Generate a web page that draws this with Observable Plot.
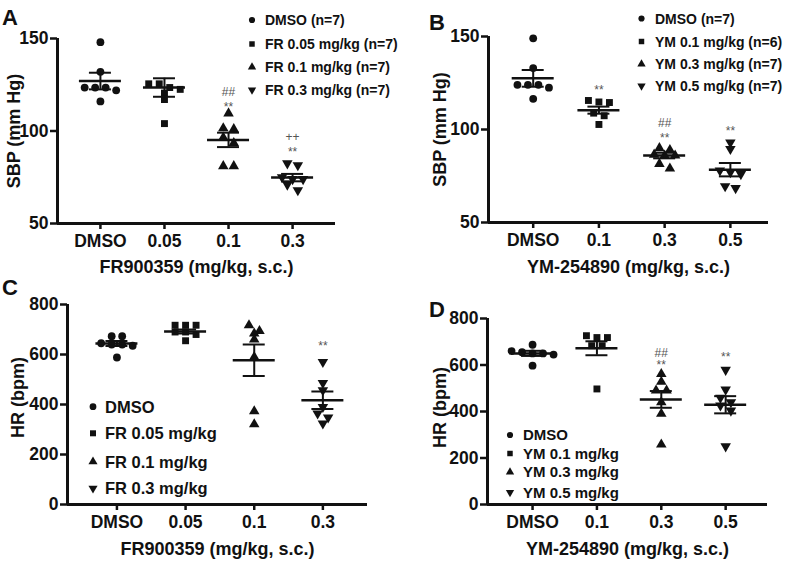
<!DOCTYPE html>
<html><head><meta charset="utf-8">
<script src="https://cdn.jsdelivr.net/npm/d3@7"></script>
<script src="https://cdn.jsdelivr.net/npm/@observablehq/plot@0.6"></script>
<style>
body{margin:0;background:#fff;}
#fig{position:relative;width:800px;height:565px;font-family:"Liberation Sans",Arial,sans-serif;color:#111;overflow:hidden;}
#fig > svg{position:absolute;}
</style></head><body><div id="fig"></div><script>
// ---------- data ----------
const catsFR = ["DMSO", "0.05", "0.1", "0.3"];
const catsYM = ["DMSO", "0.1", "0.3", "0.5"];

// Panel A: SBP, FR900359
const sbpA_DMSO = [148, 132, 123.5, 123.5, 122, 123.5, 116];
const sbpA_FR005 = [125.5, 125.5, 123.5, 122.5, 120.5, 117, 104];
const sbpA_FR01 = [109.5, 101, 101.5, 96.5, 93.5, 81, 81];
const sbpA_FR03 = [81.5, 82.5, 74, 74, 75, 71, 68];
const sbpA_mean = [127, 123.5, 95.2, 74.8];
const sbpA_sem = [4.5, 5, 3.9, 2];

// Panel B: SBP, YM-254890
const sbpB_DMSO = [149, 133, 124, 124, 122.5, 124, 116.5];
const sbpB_YM01 = [114.8, 114.5, 115.6, 108.8, 107.4, 102.7];
const sbpB_YM03 = [90, 89, 86, 86, 86.5, 81.5, 79];
const sbpB_YM05 = [93, 89.5, 77, 76, 78, 69.5, 68.5];
const sbpB_mean = [127.5, 110.4, 86, 78.4];
const sbpB_sem = [4.5, 1.9, 1.5, 3.6];

// Panel C: HR, FR900359
const hrC_DMSO = [673, 673, 645, 640, 635, 640, 588];
const hrC_FR005 = [717, 717, 717, 690, 690, 680, 655];
const hrC_FR01 = [717, 694, 684, 660, 590, 373, 321];
const hrC_FR03 = [570, 486, 457, 390, 364, 348, 324];
const hrC_mean = [644, 692, 577, 417];
const hrC_sem = [10, 8, 63, 35];

// Panel D: HR, YM-254890
const hrD_DMSO = [687, 655, 650, 645, 660, 650, 597];
const hrD_YM01 = [726, 718, 718, 683, 683, 497];
const hrD_YM03 = [561, 528, 490, 490, 440, 390, 258];
const hrD_YM05 = [579, 494, 459, 440, 426, 404, 250];
const hrD_mean = [650, 672, 452, 429];
const hrD_sem = [11, 30, 36, 37];

// significance marks: category, value, label
const annA_cat = ["0.1", "0.1", "0.3", "0.3"];
const annA_val = [121, 113, 96.5, 88.5];
const annA_lab = ["##", "**", "++", "**"];
const annB_cat = ["0.1", "0.3", "0.3", "0.5"];
const annB_val = [121.2, 103.2, 95.5, 99.1];
const annB_lab = ["**", "##", "**", "**"];
const annC_cat = ["0.3"];
const annC_val = [633];
const annC_lab = ["**"];
const annD_cat = ["0.3", "0.3", "0.5"];
const annD_val = [652, 598, 633];
const annD_lab = ["##", "**", "**"];

// legends and labels
const legendA = ["DMSO (n=7)", "FR 0.05 mg/kg (n=7)", "FR 0.1 mg/kg (n=7)", "FR 0.3 mg/kg (n=7)"];
const legendB = ["DMSO (n=7)", "YM 0.1 mg/kg (n=6)", "YM 0.3 mg/kg (n=7)", "YM 0.5 mg/kg (n=7)"];
const legendC = ["DMSO", "FR 0.05 mg/kg", "FR 0.1 mg/kg", "FR 0.3 mg/kg"];
const legendD = ["DMSO", "YM 0.1 mg/kg", "YM 0.3 mg/kg", "YM 0.5 mg/kg"];
const yTicksSBP = [50, 100, 150];
const yTicksHR = [0, 200, 400, 600, 800];

// ---------- drawing ----------
const FONT = '"Liberation Sans", Arial, sans-serif';
const INK = "#111";
const sqrt3 = Math.sqrt(3);
const symbolTriangleDown = {
  draw(context, size) {
    const y = -Math.sqrt(size / (sqrt3 * 3));
    context.moveTo(0, -y * 2);
    context.lineTo(-sqrt3 * y, y);
    context.lineTo(sqrt3 * y, y);
    context.closePath();
  }
};
const SYMBOLS = [d3.symbolCircle, d3.symbolSquare, d3.symbolTriangle, symbolTriangleDown];

// GraphPad-style scatter: points at similar heights are spread symmetrically
function swarm(values, pxPerUnit, stepPx) {
  const sorted = values.map(v => ({v})).sort((a, b) => b.v - a.v);
  const rows = [];
  for (const p of sorted) {
    const last = rows[rows.length - 1];
    if (last && Math.abs(last[0].v - p.v) * pxPerUnit < 6) last.push(p); else rows.push([p]);
  }
  const out = [];
  for (const row of rows) row.forEach((p, k) => out.push({v: p.v, off: (k - (row.length - 1) / 2) * 10.5 / stepPx}));
  return out;
}

function panel(cfg) {
  const {cats, groups, means, sems, annCat, annVal, annLab, yDomain, yTicks, xDomain,
         width, height, mL, mR, mT, mB, xLabel, yLabel, yLabDx, yLabDy, xLabDy} = cfg;
  const innerW = width - mL - mR, innerH = height - mT - mB;
  const stepPx = innerW / (xDomain[1] - xDomain[0]);
  const pxPerUnit = innerH / (yDomain[1] - yDomain[0]);
  const pts = [];
  groups.forEach((vals, g) => swarm(vals, pxPerUnit, stepPx).forEach(p => pts.push({g, x: g + p.off, y: p.v})));
  const stats = means.map((m, i) => ({i, mean: m, sem: sems[i]}));
  const ann = annCat.map((c, i) => ({x: cats.indexOf(c), y: annVal[i], t: annLab[i]}));
  const mw = 21 / stepPx, cw = 11 / stepPx;
  const marks = [
    Plot.ruleY([yDomain[0]], {stroke: INK, strokeWidth: 3}),
    Plot.ruleX([xDomain[0]], {stroke: INK, strokeWidth: 3}),
    Plot.axisY({ticks: yTicks, tickSize: 7, tickPadding: 2, strokeWidth: 2.5, label: null, tickFormat: d => String(d)}),
    Plot.axisX({ticks: [0, 1, 2, 3], tickSize: 6, tickPadding: 5, strokeWidth: 2.5, label: null, tickFormat: i => cats[i]}),
  ];
  for (let g = 0; g < 4; g++) {
    marks.push(Plot.dot(pts.filter(d => d.g === g), {x: "x", y: "y", symbol: SYMBOLS[g], r: 3.9, fill: INK, stroke: "none"}));
  }
  marks.push(
    Plot.ruleY(stats, {y: "mean", x1: d => d.i - mw, x2: d => d.i + mw, stroke: INK, strokeWidth: 2.5}),
    Plot.ruleX(stats, {x: "i", y1: d => d.mean - d.sem, y2: d => d.mean + d.sem, stroke: INK, strokeWidth: 2}),
    Plot.ruleY(stats, {y: d => d.mean + d.sem, x1: d => d.i - cw, x2: d => d.i + cw, stroke: INK, strokeWidth: 2}),
    Plot.ruleY(stats, {y: d => d.mean - d.sem, x1: d => d.i - cw, x2: d => d.i + cw, stroke: INK, strokeWidth: 2}),
    Plot.text(ann, {x: "x", y: "y", text: "t", fill: "#555", fontSize: 12, fontWeight: "normal", lineAnchor: "middle"}),
    Plot.text([xLabel], {text: d => d, frameAnchor: "bottom", textAnchor: "middle", dy: xLabDy, fontSize: 18, lineAnchor: "middle"}),
    Plot.text([yLabel], {text: d => d, frameAnchor: "left", textAnchor: "middle", rotate: -90, dx: yLabDx, dy: yLabDy, fontSize: 18, lineAnchor: "middle"})
  );
  return Plot.plot({
    width, height, marginLeft: mL, marginRight: mR, marginTop: mT, marginBottom: mB,
    x: {type: "linear", domain: xDomain},
    y: {type: "linear", domain: yDomain},
    style: {fontFamily: FONT, fontSize: "17.5px", fontWeight: "bold", color: INK, background: "transparent", overflow: "visible"},
    marks
  });
}

const fig = document.getElementById("fig");
function place(el, left, top) { el.style.left = left + "px"; el.style.top = top + "px"; fig.appendChild(el); }

place(panel({cats: catsFR, groups: [sbpA_DMSO, sbpA_FR005, sbpA_FR01, sbpA_FR03], means: sbpA_mean, sems: sbpA_sem,
  annCat: annA_cat, annVal: annA_val, annLab: annA_lab, yDomain: [50, 150], yTicks: yTicksSBP, xDomain: [-0.67, 3.67],
  width: 400, height: 280, mL: 57, mR: 65, mT: 38, mB: 57, xLabel: "FR900359 (mg/kg, s.c.)", yLabel: "SBP (mm Hg)",
  yLabDx: -43, yLabDy: 0, xLabDy: 44}), 0, 0);

place(panel({cats: catsYM, groups: [sbpB_DMSO, sbpB_YM01, sbpB_YM03, sbpB_YM05], means: sbpB_mean, sems: sbpB_sem,
  annCat: annB_cat, annVal: annB_val, annLab: annB_lab, yDomain: [50, 150], yTicks: yTicksSBP, xDomain: [-0.68, 3.58],
  width: 400, height: 280, mL: 88, mR: 32, mT: 36, mB: 58, xLabel: "YM-254890 (mg/kg, s.c.)", yLabel: "SBP (mm Hg)",
  yLabDx: -48, yLabDy: 0, xLabDy: 45}), 400, 0);

place(panel({cats: catsFR, groups: [hrC_DMSO, hrC_FR005, hrC_FR01, hrC_FR03], means: hrC_mean, sems: hrC_sem,
  annCat: annC_cat, annVal: annC_val, annLab: annC_lab, yDomain: [0, 800], yTicks: yTicksHR, xDomain: [-0.72, 3.65],
  width: 400, height: 285, mL: 67, mR: 33, mT: 24, mB: 61, xLabel: "FR900359 (mg/kg, s.c.)", yLabel: "HR (bpm)",
  yLabDx: -49, yLabDy: -7, xLabDy: 45}), 0, 280);

place(panel({cats: catsYM, groups: [hrD_DMSO, hrD_YM01, hrD_YM03, hrD_YM05], means: hrD_mean, sems: hrD_sem,
  annCat: annD_cat, annVal: annD_val, annLab: annD_lab, yDomain: [0, 800], yTicks: yTicksHR, xDomain: [-0.7, 3.65],
  width: 400, height: 285, mL: 87, mR: 33, mT: 38, mB: 61, xLabel: "YM-254890 (mg/kg, s.c.)", yLabel: "HR (bpm)",
  yLabDx: -47, yLabDy: -4, xLabDy: 45}), 400, 280);

// overlay: panel letters and legends
const ov = d3.select(fig).append("svg").attr("width", 800).attr("height", 565)
  .style("left", "0px").style("top", "0px").style("font-family", FONT).style("font-weight", "bold").style("fill", INK);
[["A", 2, 25], ["B", 429, 30], ["C", 2, 295], ["D", 429, 317]].forEach(([t, x, y]) =>
  ov.append("text").attr("x", x).attr("y", y).attr("font-size", 22).text(t));

function legend(labels, sx, tx, rows, fs, symSize) {
  labels.forEach((lab, i) => {
    ov.append("path").attr("d", d3.symbol(SYMBOLS[i], symSize)()).attr("transform", `translate(${sx},${rows[i]})`).attr("fill", INK);
    ov.append("text").attr("x", tx).attr("y", rows[i]).attr("dy", "0.36em").attr("font-size", fs).text(lab);
  });
}
legend(legendA, 252, 265, [20, 44, 67, 90], 14, 30);
legend(legendB, 641.5, 655, [18.5, 41.5, 64, 86], 14, 30);
legend(legendC, 93, 105, [406.7, 433.3, 461.7, 488.3], 16.5, 36);
legend(legendD, 510, 523, [435, 453.5, 472, 492.5], 15, 30);
</script></body></html>
